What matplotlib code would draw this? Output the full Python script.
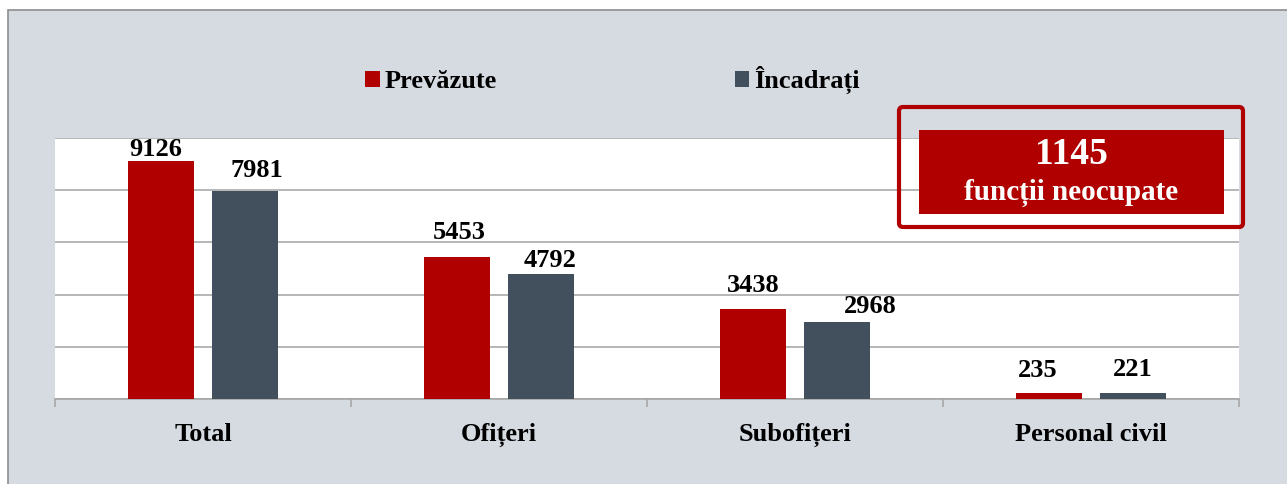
import matplotlib.pyplot as plt
import matplotlib.transforms as mtransforms
from matplotlib.patches import Rectangle, FancyBboxPatch
import numpy as np

categories = ["Total", "Ofițeri", "Subofițeri", "Personal civil"]
prevazute = [9126, 5453, 3438, 235]
incadrati = [7981, 4792, 2968, 221]
series_names = ["Prevăzute", "Încadrați"]
box_value = "1145"
box_text = "funcții neocupate"

# label nudges in pixels (dx, gap above bar), as placed in the original
prev_nudge = [(-5, 5), (2, 18), (0, 17), (-11, 16)]
inc_nudge = [(12, 14), (9, 7), (33, 9), (0, 17)]

RED = "#b00000"
SLATE = "#424f5d"
BG = "#d6dbe2"
GRID = "#a3a3a3"
W, H, DPI = 1287, 484, 100

plt.rcParams["font.family"] = ["Liberation Serif", "DejaVu Serif"]
plt.rcParams["font.weight"] = "bold"

fig = plt.figure(figsize=(W / DPI, H / DPI), dpi=DPI, facecolor="white")
# pixel transform, origin top-left
pix = mtransforms.Affine2D().scale(1, -1).translate(0, H).scale(1 / DPI) + fig.dpi_scale_trans

fig.patches.append(Rectangle((8, 10), W, H, transform=pix, facecolor=BG,
                             edgecolor="#8e8e8e", linewidth=1.2, zorder=-5))

ax = fig.add_axes([55 / W, (H - 399) / H, 1184 / W, 261 / H])
ax.set_facecolor("white")

x = np.arange(len(categories))
off, bw = 0.142, 0.223
b1 = ax.bar(x - off, prevazute, bw, color=RED, zorder=3, label=series_names[0])
b2 = ax.bar(x + off, incadrati, bw, color=SLATE, zorder=3, label=series_names[1])

for bars, vals, nud in [(b1, prevazute, prev_nudge), (b2, incadrati, inc_nudge)]:
    for r, v, (dx, g) in zip(bars, vals, nud):
        ax.annotate(str(v), (r.get_x() + r.get_width() / 2, v), xytext=(dx, g),
                    textcoords="offset pixels", ha="center", va="baseline",
                    fontsize=19, fontweight="bold", color="black", zorder=5)

ax.set_xlim(-0.5, len(categories) - 0.5)
ax.set_ylim(0, 10000)
ax.set_yticks(np.arange(0, 10001, 2000))
ax.yaxis.grid(True, color=GRID, linewidth=1.1, zorder=0)
ax.tick_params(axis="y", length=0, labelleft=False)
ax.set_xticks(x)
ax.set_xticklabels(categories, fontsize=19, fontweight="bold")
ax.set_xticks(np.arange(-0.5, len(categories)), minor=True)
ax.tick_params(axis="x", which="major", length=0, pad=17)
ax.tick_params(axis="x", which="minor", length=6, color=GRID, width=1.1)
for s in ["left", "right", "top"]:
    ax.spines[s].set_visible(False)
ax.spines["bottom"].set_color(GRID)
ax.spines["bottom"].set_linewidth(1.1)
ax.set_axisbelow(True)

fig.legend(handles=[b1, b2], labels=series_names, loc="center left",
           bbox_to_anchor=(365 / W, 1 - 80 / H), ncol=2, frameon=False,
           fontsize=19, handlelength=0.55, handleheight=0.55, handletextpad=0.2,
           columnspacing=9.0, borderpad=0, borderaxespad=0)

# "1145 funcții neocupate" callout
fig.patches.append(FancyBboxPatch((899, 107), 344, 120, transform=pix,
                                  boxstyle="round,pad=0,rounding_size=4",
                                  facecolor="none", edgecolor=RED, linewidth=3, zorder=6))
fig.patches.append(Rectangle((919, 130), 305, 84, transform=pix,
                             facecolor=RED, edgecolor="none", zorder=6))
fig.text(1071.5, 164, box_value, transform=pix, ha="center", va="baseline",
         fontsize=27, fontweight="bold", color="white", zorder=7)
fig.text(1071.5, 200, box_text, transform=pix, ha="center", va="baseline",
         fontsize=21, fontweight="bold", color="white", zorder=7)

fig.savefig("out.png", dpi=DPI, facecolor="white")
